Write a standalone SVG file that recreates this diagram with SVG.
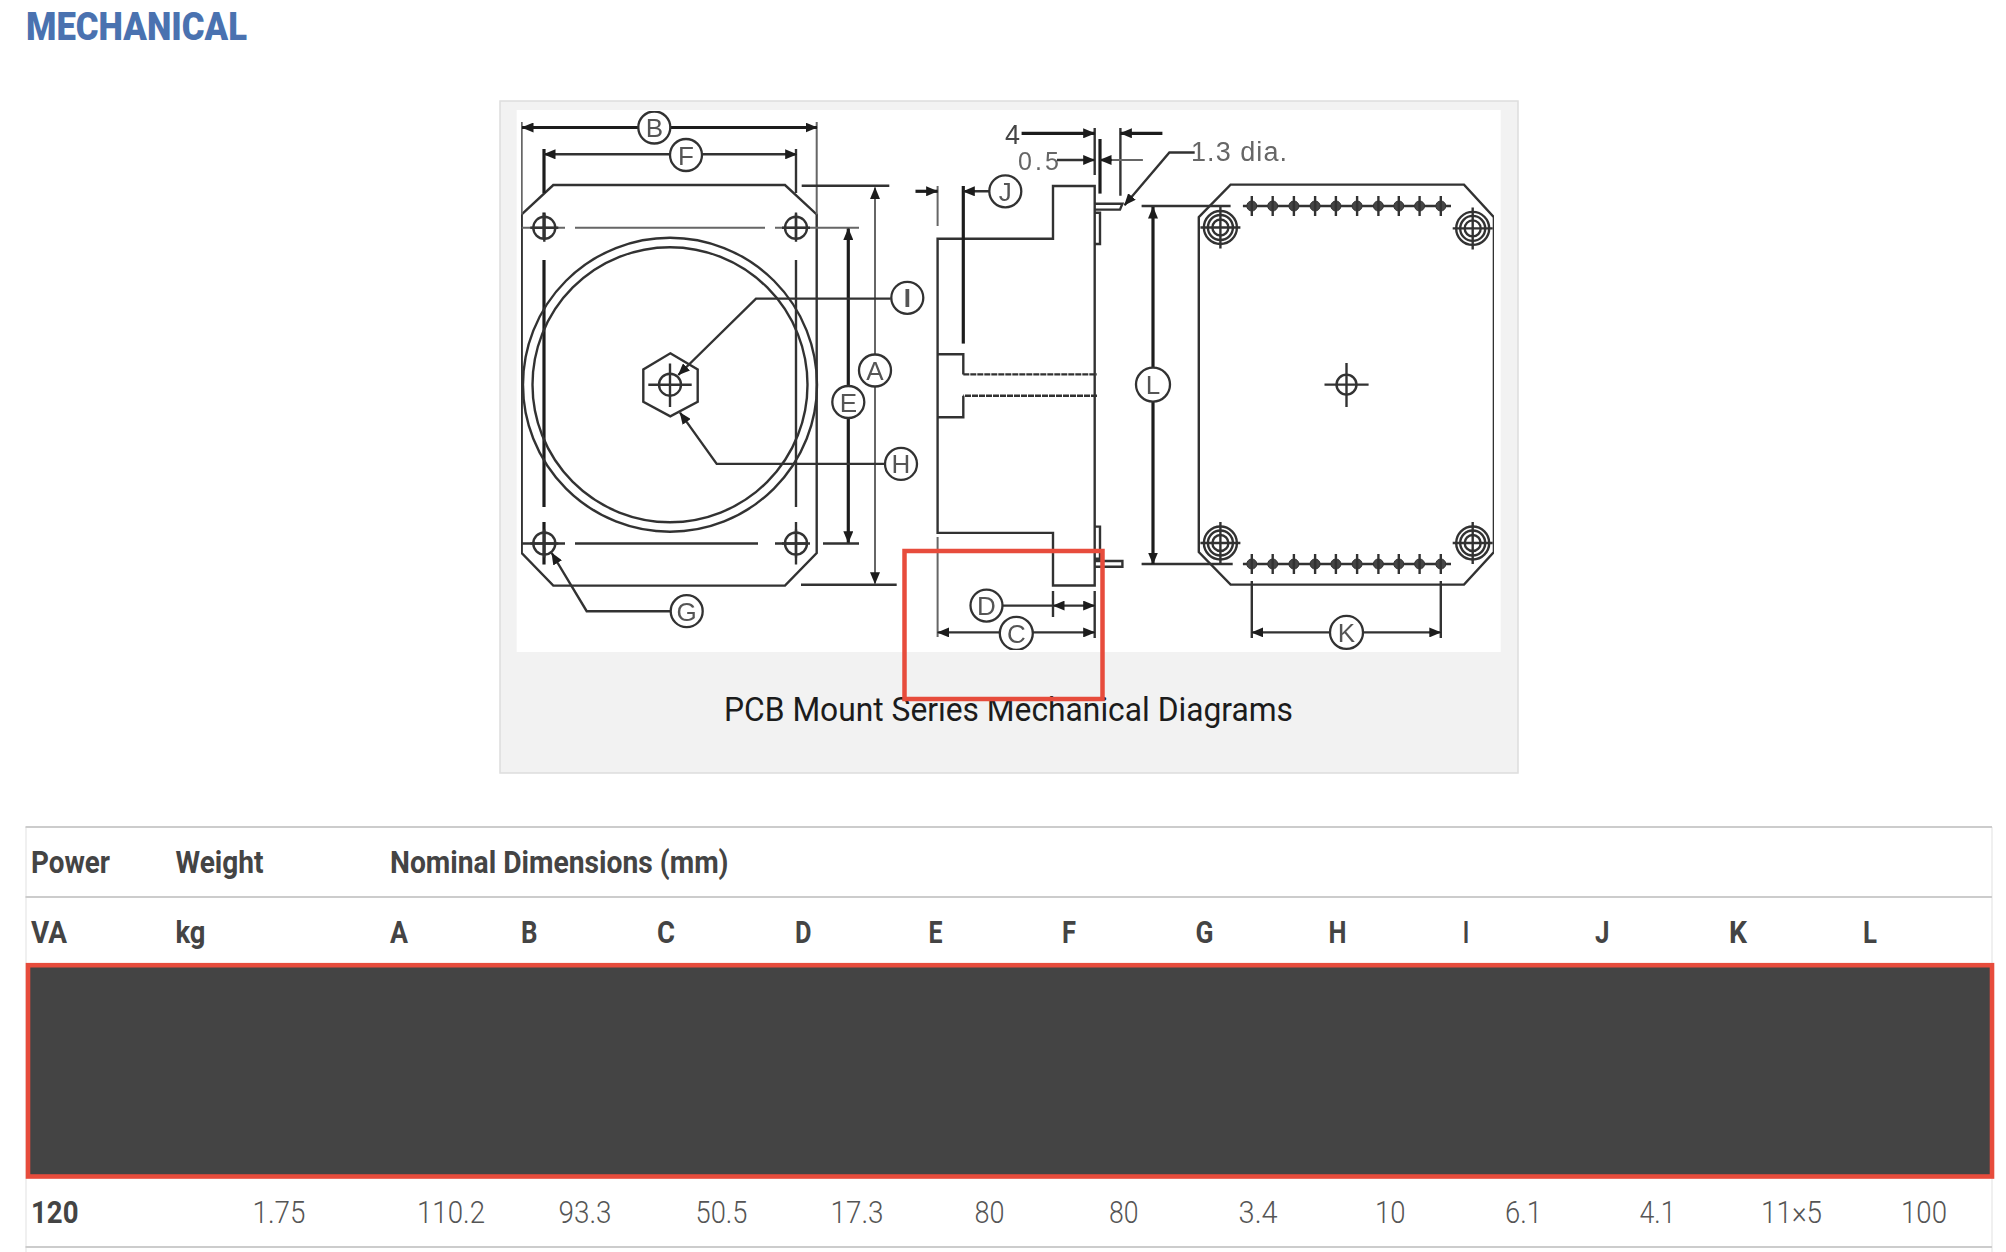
<svg xmlns="http://www.w3.org/2000/svg" xmlns:xlink="http://www.w3.org/1999/xlink" width="2006" height="1252" viewBox="0 0 2006 1252">
<style>
.h{font-family:Roboto,"Liberation Sans",sans-serif;font-weight:700;font-size:30.5px;fill:#444}
.v{font-family:Roboto,"Liberation Sans",sans-serif;font-weight:300;font-size:31px;fill:#555}
.rule{stroke:#ccc;stroke-width:2.2;fill:none}
.side{stroke:#ececec;stroke-width:1.5;fill:none}
.l{fill:none;stroke:#333;stroke-width:2.4}
.t{fill:none;stroke:#666;stroke-width:2}
.k{fill:none;stroke:#1c1c1c;stroke-width:3.2}
.a{marker-start:url(#ah);marker-end:url(#ah)}
.e{marker-end:url(#ah)}
.cl{fill:#fff;stroke:#333;stroke-width:2.3}
.lb{font-family:"Liberation Sans",Arial,sans-serif;font-size:26px;fill:#555;text-anchor:middle}
.dim{font-family:"Liberation Sans",Arial,sans-serif;fill:#555}
</style>
<defs>
<marker id="ah" viewBox="0 0 12 10" refX="11.5" refY="5" markerWidth="12" markerHeight="10" markerUnits="userSpaceOnUse" orient="auto-start-reverse"><path d="M0 0L12 5L0 10Z" fill="#1c1c1c"/></marker>
<filter id="soft" x="0" y="0" width="100%" height="100%"><feGaussianBlur stdDeviation="0.55"/></filter>
<g id="hole"><circle r="11" class="l"/><path d="M-14 0H14M0 -14V14" class="l"/></g>
<g id="boss"><circle r="16.5" class="l"/><circle r="12.5" class="l"/><circle r="8" class="l"/><path d="M-20 0H20M0 -21V21" class="l"/></g>
<g id="pin"><circle r="5" fill="#444" stroke="#333"/><path d="M0 -10V10" class="l"/></g>
</defs>
<rect width="2006" height="1252" fill="#fff"/>
<text id="title" x="26" y="39.5" font-family="Roboto,'Liberation Sans',sans-serif" font-weight="900" font-size="38" fill="#4a72b0" textLength="221" lengthAdjust="spacingAndGlyphs">MECHANICAL</text>
<rect id="panel" x="500" y="101" width="1018" height="672" fill="#f2f2f2" stroke="#ddd" stroke-width="1.5"/>
<rect id="drawing-bg" x="516.7" y="110" width="984" height="542" fill="#fff"/>
<g id="drawing" filter="url(#soft)">
<g id="front-view">
<path class="l" d="M521.7 214.4L553.3 185H785L816.7 214.4V553L785 585.6H553.3L521.7 553Z"/>
<path class="t" d="M521.7 122V214.4M816.7 122V214.4"/>
<path class="t" d="M521.7 227.8H565M575 227.8H765M775 227.8H859"/>
<path class="l" d="M521.7 543.5H565M575 543.5H758M775 543.5H807M823 543.5H859"/>
<path class="k" d="M544 149V193M544 212.5V239M544 260V507M544 522V564.5"/>
<path class="l" stroke-width="2.6" d="M796 149V193M796 212.5V239M796 260V507M796 522V564.5"/>
<use href="#hole" x="544.3" y="227.8"/><use href="#hole" x="796" y="227.8"/><use href="#hole" x="544.3" y="543.5"/><use href="#hole" x="796" y="543.5"/>
<circle cx="670" cy="384.7" r="147" class="l"/><circle cx="670" cy="384.7" r="137.5" class="l"/>
<path class="l" d="M670.3 353.3L697.7 369.4V401.9L670.3 416.4L643.3 401.9V369.4Z"/>
<circle cx="670" cy="384.7" r="11" class="l"/><path class="l" d="M648.3 384.7H691.7M670 363.6V406.9"/>
</g>
<g id="side-view">
<path class="l" d="M937.6 238.7H1053V186H1094.7V585.5H1053V532.9H937.6Z"/>
<path class="l" d="M937.6 354.3H963.3V374.4M963.3 395.8V417.2H937.6"/>
<path class="l" stroke-width="3" stroke-dasharray="6 1" d="M963.3 374.4H1097M1097 395.8H963.3"/>
<path class="t" d="M937.6 186V226M937.6 537V637"/>
<path class="l" d="M1094.7 212.8H1100V244H1094.7M1094.7 526.6H1100V558.7H1094.7M1094.7 203.8H1122.4L1120 209.6H1094.7M1094.7 561H1122.4V566.8H1094.7"/>
</g>
<g id="back-view">
<path class="l" d="M1198.8 217.2L1230.6 184.6H1464L1493.9 217.2V552L1464 584.6H1230.6L1198.8 552Z"/>
<use href="#boss" x="1220.4" y="227.5"/><use href="#boss" x="1472.7" y="228.4"/><use href="#boss" x="1220.4" y="543"/><use href="#boss" x="1472.7" y="543"/>
<circle cx="1346.5" cy="384.6" r="10" class="l"/><path class="l" d="M1324.5 384.6H1368.6M1346.5 363V407"/>
<path class="l" d="M1242.9 206H1451M1242.9 564H1451"/>
<use href="#pin" x="1251.8" y="206"/><use href="#pin" x="1272.7" y="206"/><use href="#pin" x="1293.9" y="206"/><use href="#pin" x="1315.1" y="206"/><use href="#pin" x="1335.9" y="206"/><use href="#pin" x="1357.1" y="206"/><use href="#pin" x="1378.4" y="206"/><use href="#pin" x="1398.8" y="206"/><use href="#pin" x="1419.6" y="206"/><use href="#pin" x="1440.8" y="206"/>
<use href="#pin" x="1251.8" y="564"/><use href="#pin" x="1272.7" y="564"/><use href="#pin" x="1293.9" y="564"/><use href="#pin" x="1315.1" y="564"/><use href="#pin" x="1335.9" y="564"/><use href="#pin" x="1357.1" y="564"/><use href="#pin" x="1378.4" y="564"/><use href="#pin" x="1398.8" y="564"/><use href="#pin" x="1419.6" y="564"/><use href="#pin" x="1440.8" y="564"/>
</g>
<g id="connectors">
<path class="k a" d="M522 127.5H817"/>
<path class="l a" d="M544 154.3H796.7"/>
<path class="l" d="M801.7 185.7H889.3M801 584.8H896.7"/>
<path class="t a" d="M875 187.6V583.7"/>
<path class="k a" d="M848.3 228.5V542.7"/>
<path class="l e" d="M890.7 298.6H756L678.3 375"/>
<path class="l e" d="M885 463.9H716.7L680 412.6"/>
<path class="l e" d="M670 611.2H586.7L551.7 553"/>
<path class="k" d="M963.3 186V343.6"/>
<path class="l e" d="M1005 191.3H963.3"/>
<path class="k e" d="M915.5 191.3H937.6"/>
<path class="l" d="M1094.7 128V175M1120.4 128V195.8"/>
<path class="k" d="M1100 139V193.6"/>
<path class="k e" d="M1021.6 133.3H1094.7"/>
<path class="l e" d="M1057 160H1094.7"/>
<path class="t" d="M1142.9 160H1110"/>
<path class="l e" d="M1112 160H1100"/>
<path class="k e" d="M1162.4 133.3H1120.4"/>
<path class="l e" d="M1194.7 152.5H1169.4L1124.5 205.2"/>
<path class="l" d="M1141.6 206H1230.6M1141.6 564H1232.7"/>
<path class="k a" stroke-width="2.6" d="M1153 207V564"/>
<path class="l" d="M1251.8 581V638M1440.8 581V638"/>
<path class="l a" d="M1251.8 632.4H1440.8"/>
<path class="l" d="M1053 591V617M1094.7 591V638M1003 605.6H1053"/>
<path class="l a" d="M1053 605.6H1094.7"/>
<path class="l a" d="M937.6 632.4H1094.7"/>
</g>
<g id="label-B"><circle cx="654.3" cy="127.5" r="16" class="cl"/><text class="lb" x="654.3" y="137">B</text></g>
<g id="label-F"><circle cx="686" cy="155" r="16" class="cl"/><text class="lb" x="686" y="164.5">F</text></g>
<g id="label-A"><circle cx="875" cy="370.5" r="16" class="cl"/><text class="lb" x="875" y="380">A</text></g>
<g id="label-E"><circle cx="848.3" cy="402" r="16" class="cl"/><text class="lb" x="848.3" y="411.5">E</text></g>
<g id="label-I"><circle cx="907.3" cy="297.8" r="16" class="cl"/><text class="lb" x="907.3" y="307.3" font-weight="700" fill="#222">I</text></g>
<g id="label-H"><circle cx="901" cy="463.9" r="16" class="cl"/><text class="lb" x="901" y="473.4">H</text></g>
<g id="label-G"><circle cx="686.7" cy="611.2" r="16" class="cl"/><text class="lb" x="686.7" y="620.7">G</text></g>
<g id="label-J"><circle cx="1005.3" cy="191.3" r="16" class="cl"/><text class="lb" x="1005.3" y="200.8">J</text></g>
<g id="label-L"><circle cx="1153" cy="384.6" r="17" class="cl"/><text class="lb" x="1153" y="394">L</text></g>
<g id="label-K"><circle cx="1346.5" cy="632.4" r="16.5" class="cl"/><text class="lb" x="1346.5" y="642">K</text></g>
<g id="label-D"><circle cx="986.5" cy="605.6" r="16" class="cl"/><text class="lb" x="986.5" y="615">D</text></g>
<g id="label-C"><circle cx="1016.3" cy="633.3" r="16.5" class="cl"/><text class="lb" x="1016.3" y="642.8">C</text></g>
<text class="dim" x="1005" y="144" font-size="27" style="fill:#444">4</text>
<text class="dim" x="1018" y="170" font-size="25" textLength="41" style="fill:#666">0.5</text>
<text class="dim" x="1191" y="161.4" font-size="27" textLength="96" style="fill:#666">1.3 dia.</text>
</g>
<text id="caption" x="724" y="720.5" font-family="Roboto,'Liberation Sans',sans-serif" font-size="33" fill="#1c1c1c" textLength="569" lengthAdjust="spacingAndGlyphs">PCB Mount Series Mechanical Diagrams</text>
<rect id="callout" x="904.5" y="551" width="198" height="148" fill="none" stroke="#e74c3c" stroke-width="4.5"/>
<g id="table">
<path class="side" d="M26 827V1252M1992 827V1252"/>
<path class="rule" d="M25.5 827H1992M25.5 897H1992M25.5 1247H1992"/>
<text class="h" x="31" y="872.5" textLength="79" lengthAdjust="spacingAndGlyphs">Power</text>
<text class="h" x="175.5" y="872.5" textLength="88" lengthAdjust="spacingAndGlyphs">Weight</text>
<text class="h" x="390" y="872.5" textLength="338.5" lengthAdjust="spacingAndGlyphs">Nominal Dimensions (mm)</text>
<text class="h" x="31" y="942.7" textLength="36" lengthAdjust="spacingAndGlyphs">VA</text>
<text class="h" x="175.5" y="942.7" textLength="30" lengthAdjust="spacingAndGlyphs">kg</text>
<text class="h" x="390" y="942.7" textLength="18" lengthAdjust="spacingAndGlyphs">A</text>
<text class="h" x="521" y="942.7" textLength="16.5" lengthAdjust="spacingAndGlyphs">B</text>
<text class="h" x="657" y="942.7" textLength="18" lengthAdjust="spacingAndGlyphs">C</text>
<text class="h" x="795" y="942.7" textLength="16.5" lengthAdjust="spacingAndGlyphs">D</text>
<text class="h" x="928.6" y="942.7" textLength="14" lengthAdjust="spacingAndGlyphs">E</text>
<text class="h" x="1062" y="942.7" textLength="14" lengthAdjust="spacingAndGlyphs">F</text>
<text class="h" x="1195.6" y="942.7" textLength="18" lengthAdjust="spacingAndGlyphs">G</text>
<text class="h" x="1328.4" y="942.7" textLength="18" lengthAdjust="spacingAndGlyphs">H</text>
<text class="h" x="1463" y="942.7" textLength="6" lengthAdjust="spacingAndGlyphs">I</text>
<text class="h" x="1595" y="942.7" textLength="14.5" lengthAdjust="spacingAndGlyphs">J</text>
<text class="h" x="1729" y="942.7" textLength="18" lengthAdjust="spacingAndGlyphs">K</text>
<text class="h" x="1863" y="942.7" textLength="14" lengthAdjust="spacingAndGlyphs">L</text>
<rect id="row-highlight" x="28" y="965.2" width="1964" height="211.3" fill="#444" stroke="#e74c3c" stroke-width="4.6"/>
<text class="h" x="31" y="1222.7" textLength="47.5" lengthAdjust="spacingAndGlyphs">120</text>
<text class="v" x="252.5" y="1222.7" textLength="53" lengthAdjust="spacingAndGlyphs">1.75</text>
<text class="v" x="417" y="1222.7" textLength="68" lengthAdjust="spacingAndGlyphs">110.2</text>
<text class="v" x="558.5" y="1222.7" textLength="53" lengthAdjust="spacingAndGlyphs">93.3</text>
<text class="v" x="695.5" y="1222.7" textLength="52" lengthAdjust="spacingAndGlyphs">50.5</text>
<text class="v" x="830.5" y="1222.7" textLength="53" lengthAdjust="spacingAndGlyphs">17.3</text>
<text class="v" x="974.5" y="1222.7" textLength="30" lengthAdjust="spacingAndGlyphs">80</text>
<text class="v" x="1109" y="1222.7" textLength="29.5" lengthAdjust="spacingAndGlyphs">80</text>
<text class="v" x="1238.6" y="1222.7" textLength="39" lengthAdjust="spacingAndGlyphs">3.4</text>
<text class="v" x="1375" y="1222.7" textLength="30.5" lengthAdjust="spacingAndGlyphs">10</text>
<text class="v" x="1505" y="1222.7" textLength="37" lengthAdjust="spacingAndGlyphs">6.1</text>
<text class="v" x="1639.5" y="1222.7" textLength="36" lengthAdjust="spacingAndGlyphs">4.1</text>
<text class="v" x="1761" y="1222.7" textLength="61" lengthAdjust="spacingAndGlyphs">11×5</text>
<text class="v" x="1901" y="1222.7" textLength="46" lengthAdjust="spacingAndGlyphs">100</text>
</g>
</svg>
